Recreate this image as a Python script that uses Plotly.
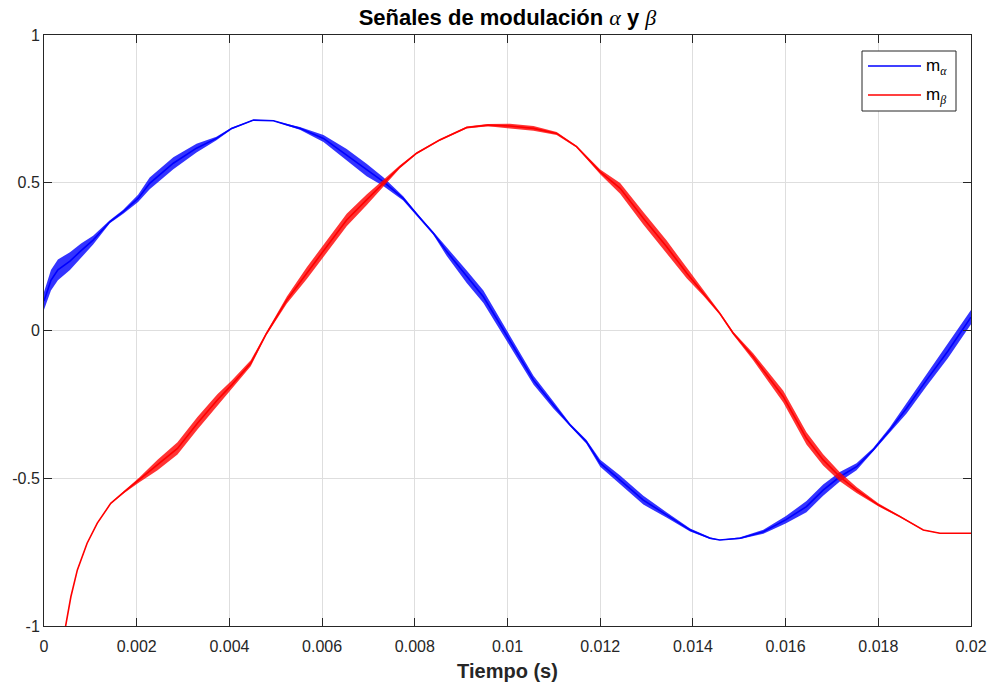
import plotly.graph_objects as go

# ---- data ----
t_alpha = [0, 0.00015, 0.0003, 0.00056, 0.0008, 0.00106, 0.00142, 0.00171, 0.00203, 0.00228,
           0.00279, 0.00329, 0.00372, 0.00405, 0.00452, 0.00495, 0.00527, 0.00552, 0.00603, 0.00653,
           0.00696, 0.00732, 0.00775, 0.00811, 0.0084, 0.00869, 0.00912, 0.00948, 0.0099, 0.0102,
           0.01056, 0.01099, 0.01135, 0.0117, 0.012, 0.01243, 0.01293, 0.01343, 0.01394, 0.01437,
           0.01458, 0.01502, 0.01552, 0.016, 0.01645, 0.01681, 0.01717, 0.01753, 0.01789, 0.01825,
           0.01861, 0.01904, 0.0195, 0.02]
m_alpha = [0.10, 0.17, 0.205, 0.235, 0.27, 0.306, 0.368, 0.402, 0.447, 0.498,
           0.566, 0.617, 0.650, 0.684, 0.712, 0.710, 0.695, 0.684, 0.650, 0.594,
           0.543, 0.504, 0.447, 0.380, 0.329, 0.267, 0.182, 0.114, 0.005, -0.075,
           -0.168, -0.252, -0.320, -0.376, -0.449, -0.506, -0.574, -0.624, -0.675, -0.703,
           -0.709, -0.703, -0.681, -0.641, -0.596, -0.540, -0.495, -0.461, -0.404, -0.337,
           -0.263, -0.168, -0.07, 0.045]
# half peak-to-peak switching ripple seen around m_alpha
rip_alpha = [0.03, 0.035, 0.035, 0.03, 0.024, 0.015, 0.005, 0.007, 0.012, 0.02,
             0.02, 0.015, 0.006, 0.003, 0.001, 0.001, 0.003, 0.005, 0.012, 0.02,
             0.021, 0.015, 0.007, 0.004, 0.005, 0.015, 0.021, 0.021, 0.019, 0.016,
             0.015, 0.012, 0.005, 0.006, 0.012, 0.015, 0.015, 0.009, 0.005, 0.003,
             0.001, 0.003, 0.007, 0.012, 0.019, 0.019, 0.016, 0.012, 0.006, 0.01,
             0.018, 0.021, 0.024, 0.024]

t_beta = [0, 0.0003, 0.00047, 0.00058, 0.00072, 0.00093, 0.00115, 0.00144, 0.00173, 0.00205,
          0.00245, 0.00288, 0.00331, 0.00374, 0.00405, 0.00446, 0.0048, 0.00524, 0.00567, 0.0061,
          0.00653, 0.00696, 0.00732, 0.00768, 0.00804, 0.00854, 0.00912, 0.00958, 0.01005, 0.01056,
          0.01106, 0.01149, 0.012, 0.01243, 0.01293, 0.01343, 0.01387, 0.01423, 0.01458, 0.01487,
          0.0153, 0.01595, 0.01645, 0.01681, 0.01717, 0.01753, 0.018, 0.01847, 0.01897, 0.01933,
          0.02]
m_beta = [-1.6, -1.2, -0.997, -0.901, -0.810, -0.720, -0.652, -0.585, -0.546, -0.506,
          -0.455, -0.399, -0.314, -0.235, -0.184, -0.111, -0.01, 0.103, 0.194, 0.284,
          0.374, 0.442, 0.498, 0.554, 0.600, 0.645, 0.687, 0.695, 0.692, 0.684,
          0.667, 0.622, 0.537, 0.481, 0.380, 0.284, 0.194, 0.126, 0.058, -0.009,
          -0.089, -0.224, -0.365, -0.438, -0.495, -0.540, -0.590, -0.630, -0.675, -0.686,
          -0.686]
rip_beta = [0.001, 0.001, 0.001, 0.001, 0.001, 0.001, 0.001, 0.001, 0.004, 0.008,
            0.018, 0.021, 0.021, 0.019, 0.015, 0.01, 0.005, 0.012, 0.02, 0.021,
            0.021, 0.018, 0.01, 0.005, 0.003, 0.003, 0.003, 0.004, 0.008, 0.008,
            0.005, 0.003, 0.008, 0.018, 0.021, 0.021, 0.018, 0.009, 0.005, 0.005,
            0.012, 0.02, 0.021, 0.019, 0.015, 0.01, 0.005, 0.003, 0.001, 0.001,
            0.001]

x_ticks = [0, 0.002, 0.004, 0.006, 0.008, 0.01, 0.012, 0.014, 0.016, 0.018, 0.02]
x_tick_labels = ["0", "0.002", "0.004", "0.006", "0.008", "0.01", "0.012", "0.014", "0.016", "0.018", "0.02"]
y_ticks = [-1, -0.5, 0, 0.5, 1]
y_tick_labels = ["-1", "-0.5", "0", "0.5", "1"]

series_names = ["α", "β"]
series_colors = ["#0000ff", "#ff0000"]
band_colors = ["rgba(0,0,255,0.8)", "rgba(255,0,0,0.8)"]

FONT = "Liberation Sans, Arial, Helvetica, sans-serif"
AX = "#262626"
GREEK = "font-family:'Liberation Serif','DejaVu Serif',serif;font-style:italic;font-weight:normal"

# plot area in pixels (for the hand-built MATLAB-style legend)
L, R, T, B = 44, 971, 35, 626
def px(xp):
    return (xp - L) / (R - L)
def py(yp):
    return (B - yp) / (B - T)

fig = go.Figure()

def add_signal(t, m, rip, color, band_color, name):
    up = [a + r for a, r in zip(m, rip)]
    lo = [a - r for a, r in zip(m, rip)]
    fig.add_trace(go.Scatter(x=t, y=up, mode="lines", line=dict(width=0, color=color),
                             showlegend=False, hoverinfo="skip"))
    fig.add_trace(go.Scatter(x=t, y=lo, mode="lines", line=dict(width=0, color=color),
                             fill="tonexty", fillcolor=band_color,
                             showlegend=False, hoverinfo="skip"))
    fig.add_trace(go.Scatter(x=t, y=m, mode="lines", name="m" + name, showlegend=False,
                             line=dict(width=1.6, color=color)))

add_signal(t_alpha, m_alpha, rip_alpha, series_colors[0], band_colors[0], series_names[0])
add_signal(t_beta, m_beta, rip_beta, series_colors[1], band_colors[1], series_names[1])

# legend box (MATLAB style)
fig.add_shape(type="rect", xref="paper", yref="paper",
              x0=px(862), x1=px(956), y0=py(111), y1=py(51),
              line=dict(color=AX, width=1), fillcolor="white", layer="above")
for i, (nm, col) in enumerate(zip(series_names, series_colors)):
    yl = 66 + 29 * i
    fig.add_shape(type="line", xref="paper", yref="paper",
                  x0=px(868), x1=px(921), y0=py(yl), y1=py(yl),
                  line=dict(color=col, width=1.6), layer="above")
    fig.add_annotation(xref="paper", yref="paper", x=px(924), y=py(yl + 1),
                       xanchor="left", yanchor="middle", showarrow=False,
                       text="m<sub><span style=\"%s\">%s</span></sub>" % (GREEK, nm),
                       font=dict(family=FONT, size=17, color="black"))

axis_common = dict(showline=True, linecolor=AX, linewidth=1, mirror="ticks",
                   ticks="inside", ticklen=8, tickcolor=AX, tickwidth=1,
                   showgrid=True, gridcolor="#dedede", gridwidth=1, zeroline=False,
                   automargin=False,
                   tickfont=dict(family=FONT, size=16, color=AX))

fig.update_xaxes(range=[0, 0.02], tickvals=x_ticks, ticktext=x_tick_labels,
                 ticklabelstandoff=6,
                 title=dict(text="<b>Tiempo (s)</b>", font=dict(family=FONT, size=20, color=AX),
                            standoff=10),
                 **axis_common)
fig.update_yaxes(range=[-1, 1], tickvals=y_ticks, ticktext=y_tick_labels, **axis_common)

fig.update_layout(
    width=992, height=682,
    margin=dict(l=44, r=21, t=35, b=56, autoexpand=False),
    paper_bgcolor="white", plot_bgcolor="white",
    title=dict(text="<b>Señales de modulación <span style=\"%s\">α</span> y <span style=\"%s\">β</span></b>" % (GREEK, GREEK),
               font=dict(family=FONT, size=22, color="black"),
               x=0.5, xref="paper", xanchor="center", y=1 - 17 / 682, yanchor="middle"),
    showlegend=False,
)

fig.write_html("out.html")
